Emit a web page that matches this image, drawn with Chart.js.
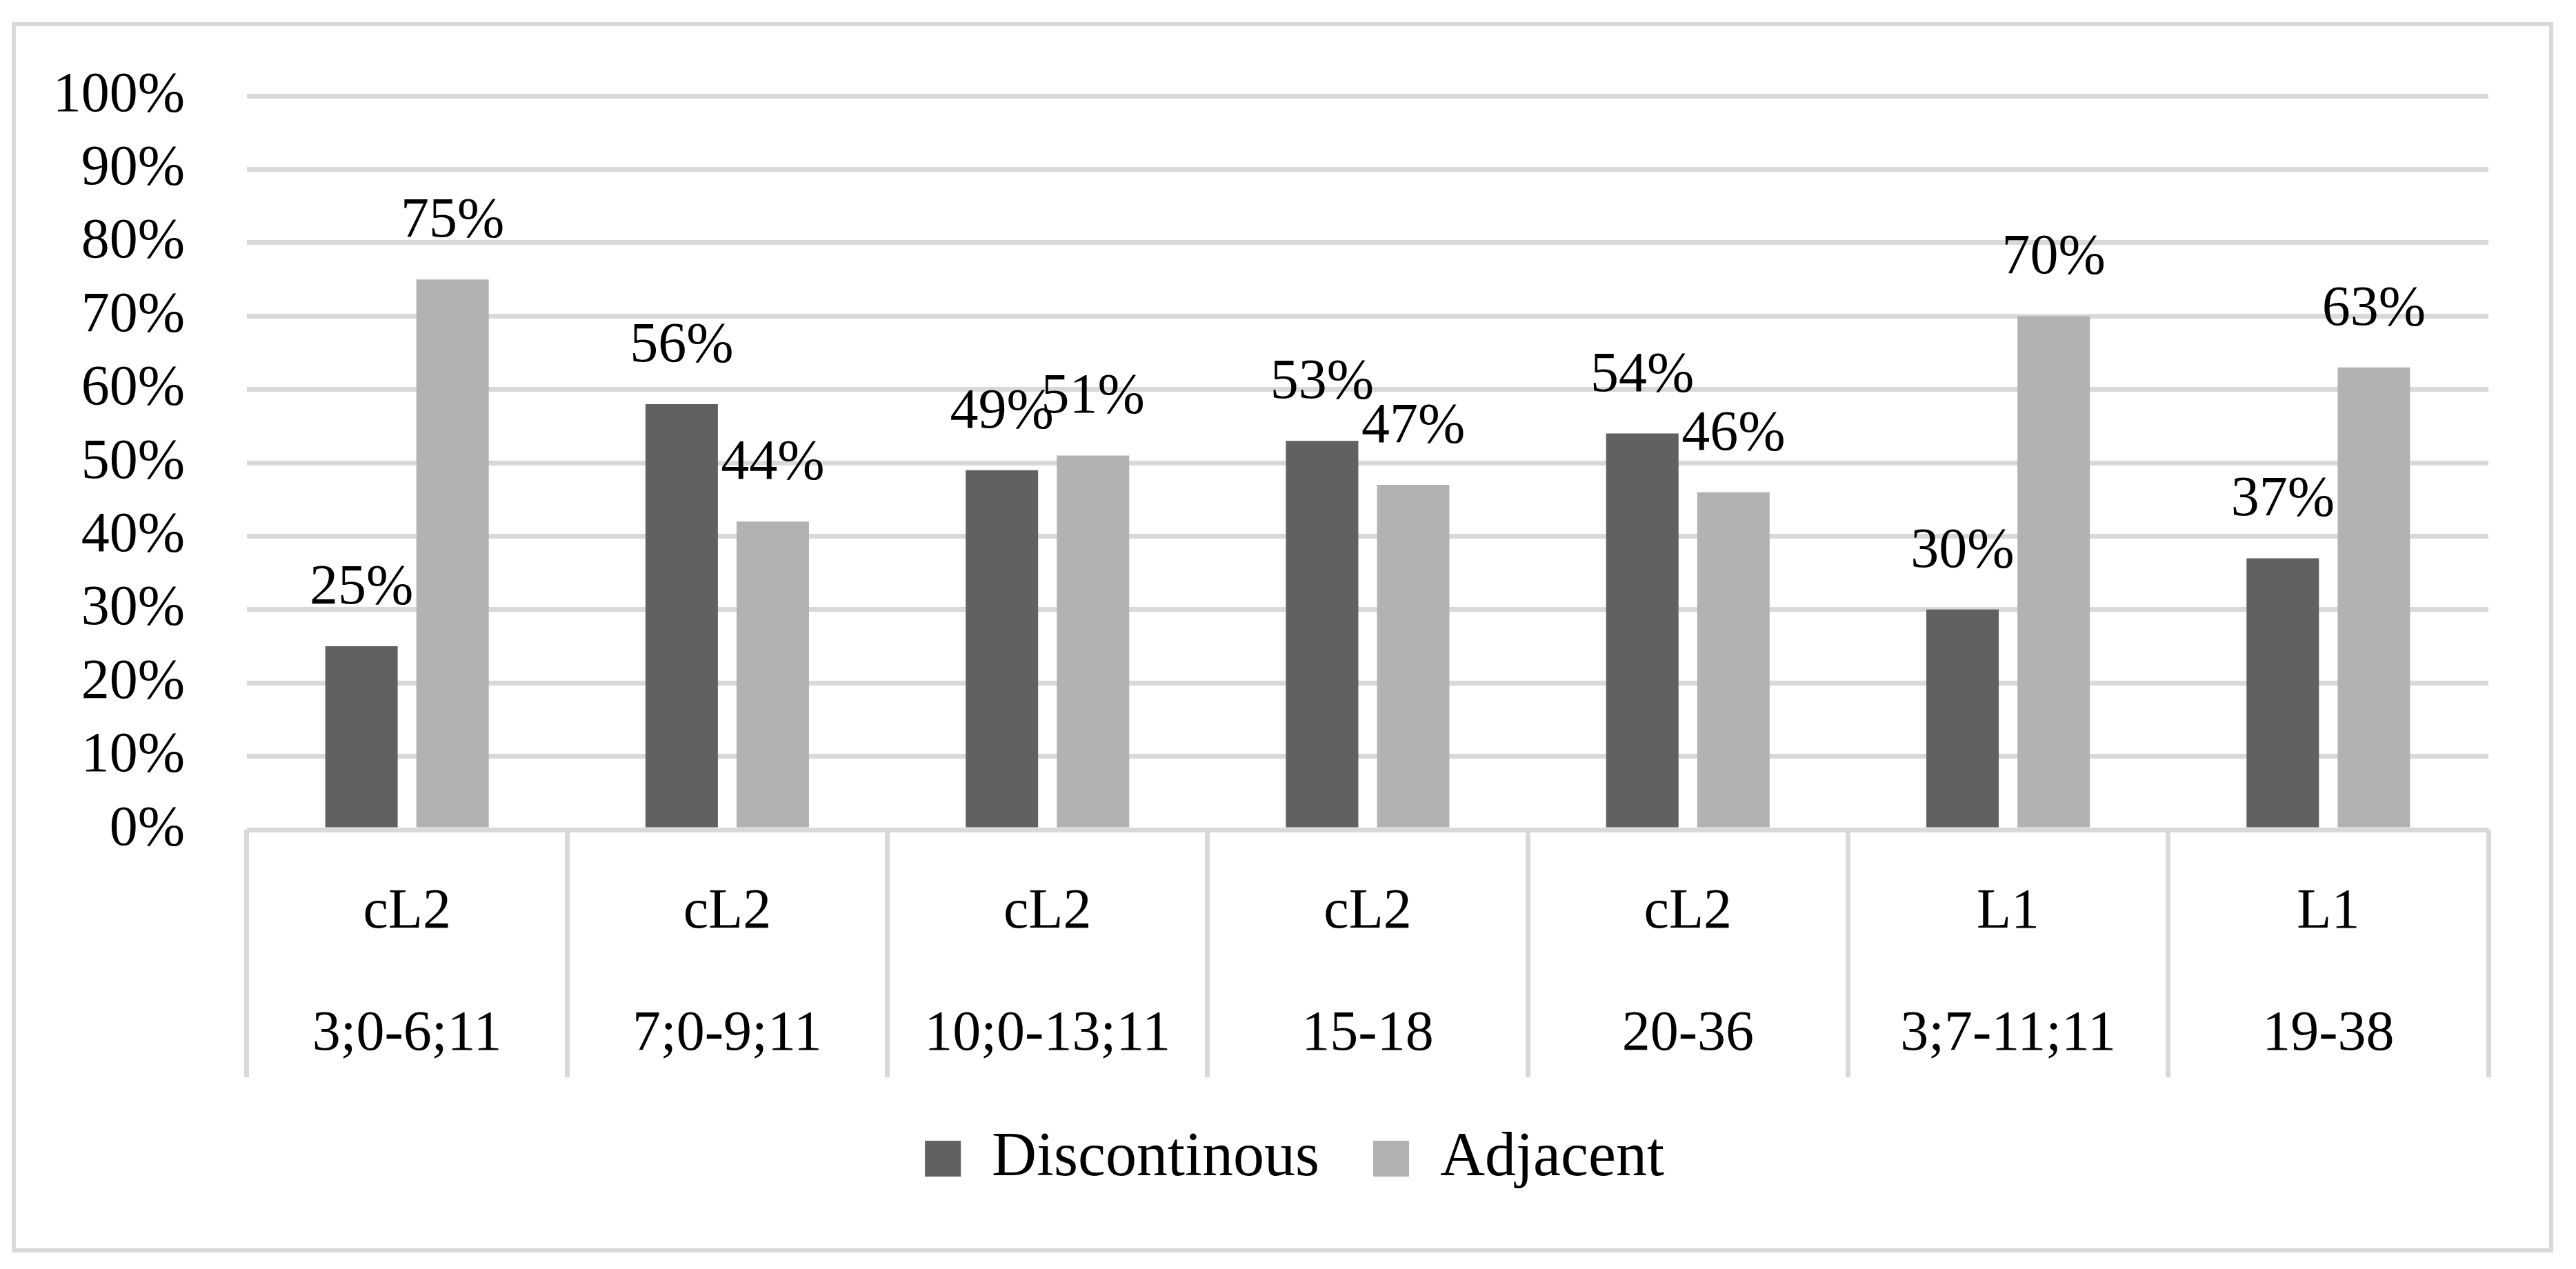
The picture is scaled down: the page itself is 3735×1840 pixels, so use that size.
<!DOCTYPE html>
<html>
<head>
<meta charset="utf-8">
<script src="https://cdn.jsdelivr.net/npm/chart.js@4.4.1/dist/chart.umd.min.js"></script>
<style>
  html, body { margin: 0; padding: 0; background: #fff; }
  #frame {
    position: absolute; left: 17px; top: 32px; width: 3685px; height: 1784px;
    box-sizing: border-box; border: 6px solid #d9d9d9;
  }
  #ageChart { position: absolute; left: 0; top: 0; }
</style>
</head>
<body>
<div id="frame"></div>
<canvas id="ageChart" width="3735" height="1840"></canvas>
<script>
// categories: group + age range (two-line labels)
const groups = ['cL2', 'cL2', 'cL2', 'cL2', 'cL2', 'L1', 'L1'];
const ageRanges = ['3;0-6;11', '7;0-9;11', '10;0-13;11', '15-18', '20-36', '3;7-11;11', '19-38'];

// bar heights as drawn
const discontinous = [25, 58, 49, 53, 54, 30, 37];
const adjacent = [75, 42, 51, 47, 46, 70, 63];

// printed value labels (second group is labelled 56/44 in the source)
const discontinousLabels = [25, 56, 49, 53, 54, 30, 37];
const adjacentLabels = [75, 44, 51, 47, 46, 70, 63];

const yTicks = [0, 10, 20, 30, 40, 50, 60, 70, 80, 90, 100];

const gridGrey = '#d9d9d9';
Chart.defaults.font.family = '"Liberation Serif", "Times New Roman", serif';
Chart.defaults.color = '#000';

const valueLabels = {
  id: 'valueLabels',
  afterDatasetsDraw(chart) {
    const ctx = chart.ctx;
    ctx.save();
    ctx.font = '82px "Liberation Serif"';
    ctx.fillStyle = '#000';
    ctx.textAlign = 'center';
    ctx.textBaseline = 'alphabetic';
    chart.data.datasets.forEach((ds, i) => {
      chart.getDatasetMeta(i).data.forEach((bar, j) => {
        ctx.fillText(ds.printed[j] + '%', bar.x, bar.y - 62);
      });
    });
    ctx.restore();
  }
};

// legend in the source sits a little right of the canvas centre
const legendShift = {
  id: 'legendShift',
  afterLayout(chart) {
    chart.legend.left += 43;
    chart.legend.right += 43;
  }
};

const ctx = document.getElementById('ageChart').getContext('2d');
new Chart(ctx, {
  type: 'bar',
  data: {
    labels: groups.map((g, i) => [g, ageRanges[i]]),
    datasets: [
      {
        label: 'Discontinous',
        data: discontinous,
        printed: discontinousLabels,
        backgroundColor: '#616161',
        borderWidth: 0,
        categoryPercentage: 0.569,
        barPercentage: 0.795
      },
      {
        label: 'Adjacent',
        data: adjacent,
        printed: adjacentLabels,
        backgroundColor: '#b2b2b2',
        borderWidth: 0,
        categoryPercentage: 0.569,
        barPercentage: 0.795
      }
    ]
  },
  options: {
    responsive: false,
    animation: false,
    layout: { padding: { left: 60, right: 127, top: 132, bottom: 105 } },
    scales: {
      x: {
        afterFit: (scale) => { scale.height = 354; },
        border: { display: false },
        grid: {
          offset: true,
          drawOnChartArea: false,
          drawTicks: true,
          tickLength: 359,
          color: gridGrey,
          lineWidth: 7
        },
        ticks: {
          autoSkip: false,
          maxRotation: 0,
          padding: 31 - 359,
          font: { size: 82, lineHeight: 2.17 }
        }
      },
      y: {
        min: 0,
        max: 100,
        afterFit: (scale) => { scale.width = 298; },
        afterBuildTicks: (scale) => { scale.ticks = yTicks.map(v => ({ value: v })); },
        border: { display: false },
        grid: { color: gridGrey, lineWidth: 7, drawTicks: false },
        ticks: {
          padding: 90,
          font: { size: 82 },
          callback: (v) => v + '%'
        }
      }
    },
    plugins: {
      legend: {
        position: 'bottom',
        labels: {
          boxWidth: 52,
          boxHeight: 52,
          padding: 78,
          font: { size: 90 }
        }
      },
      tooltip: { enabled: false }
    }
  },
  plugins: [valueLabels, legendShift]
});
</script>
</body>
</html>
